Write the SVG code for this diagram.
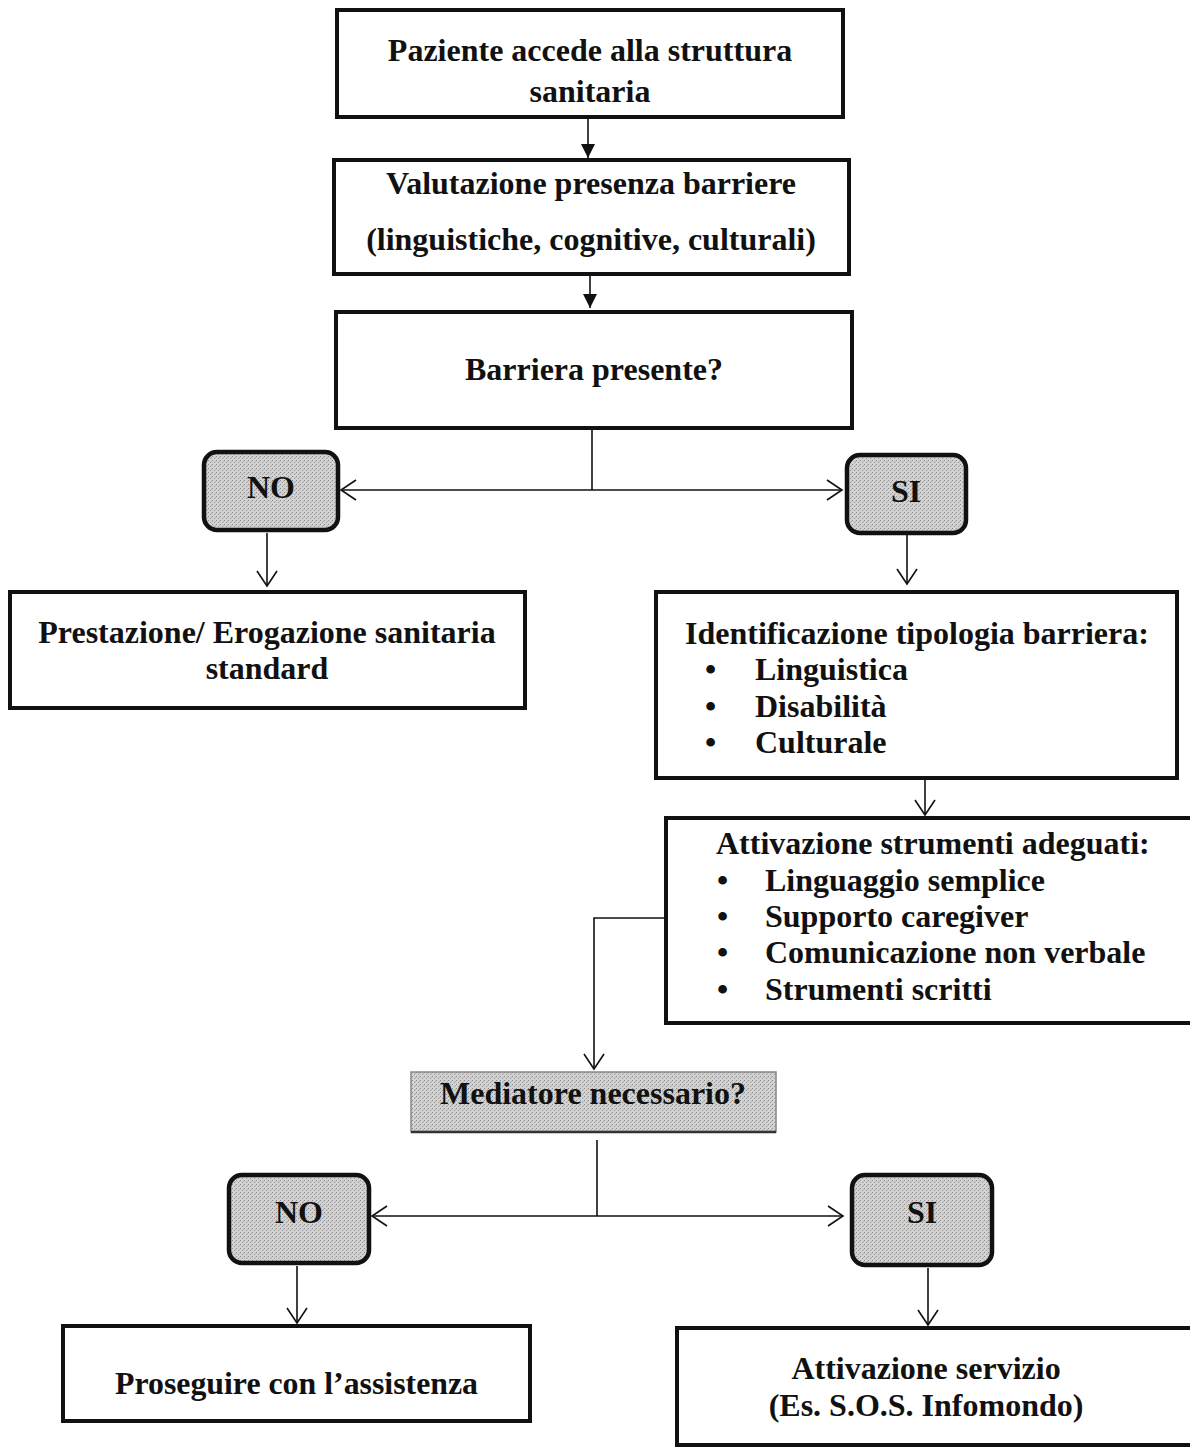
<svg xmlns="http://www.w3.org/2000/svg" width="1190" height="1448" viewBox="0 0 1190 1448">
<style>
.box{fill:#fff;stroke:#111;stroke-width:4}
.dec{fill:url(#stip);stroke:#111;stroke-width:4.5}
.med{fill:url(#stip);stroke:#888;stroke-width:1.5}
.t{font-family:"Liberation Serif","Times New Roman",serif;font-weight:bold;font-size:32px;fill:#111}
.c{text-anchor:middle}
.ln{fill:none;stroke:#111;stroke-width:1.6}
</style>
<defs>
<pattern id="stip" patternUnits="userSpaceOnUse" width="4" height="4">
<rect width="4" height="4" fill="#d2d2d2"/>
<rect x="0" y="0" width="1" height="1" fill="#8a8a8a"/>
<rect x="2" y="2" width="1" height="1" fill="#9a9a9a"/>
<rect x="3" y="1" width="1" height="1" fill="#b0b0b0"/>
</pattern>
<marker id="fa" markerUnits="userSpaceOnUse" markerWidth="14" markerHeight="14" refX="14" refY="7" orient="auto">
<path d="M0,0 L14,7 L0,14 Z" fill="#111"/>
</marker>
<marker id="oa" markerUnits="userSpaceOnUse" markerWidth="18" markerHeight="24" refX="16" refY="11" orient="auto">
<path d="M1,1 L16,11 L1,21" fill="none" stroke="#111" stroke-width="1.6"/>
</marker>
</defs>

<g id="connectors">
<line class="ln" x1="588" y1="119" x2="588" y2="158" marker-end="url(#fa)"/>
<line class="ln" x1="590" y1="276" x2="590" y2="308" marker-end="url(#fa)"/>
<polyline class="ln" points="592,430 592,490"/>
<line class="ln" x1="592" y1="490" x2="341" y2="490" marker-end="url(#oa)"/>
<line class="ln" x1="592" y1="490" x2="842" y2="490" marker-end="url(#oa)"/>
<line class="ln" x1="267" y1="533" x2="267" y2="586" marker-end="url(#oa)"/>
<line class="ln" x1="907" y1="535" x2="907" y2="584" marker-end="url(#oa)"/>
<line class="ln" x1="925" y1="768" x2="925" y2="815" marker-end="url(#oa)"/>
<polyline class="ln" points="666,918 594,918 594,1069" marker-end="url(#oa)"/>
<polyline class="ln" points="597,1140 597,1216"/>
<line class="ln" x1="597" y1="1216" x2="372" y2="1216" marker-end="url(#oa)"/>
<line class="ln" x1="597" y1="1216" x2="843" y2="1216" marker-end="url(#oa)"/>
<line class="ln" x1="297" y1="1266" x2="297" y2="1323" marker-end="url(#oa)"/>
<line class="ln" x1="928" y1="1268" x2="928" y2="1325" marker-end="url(#oa)"/>
</g>

<g id="n1">
<rect class="box" x="337" y="10" width="506" height="107"/>
<text class="t c" x="590" y="61">Paziente accede alla struttura</text>
<text class="t c" x="590" y="102">sanitaria</text>
</g>
<g id="n2">
<rect class="box" x="334" y="160" width="515" height="114"/>
<text class="t c" x="591" y="194">Valutazione presenza barriere</text>
<text class="t c" x="591" y="250">(linguistiche, cognitive, culturali)</text>
</g>
<g id="n3">
<rect class="box" x="336" y="312" width="516" height="116"/>
<text class="t c" x="594" y="380">Barriera presente?</text>
</g>
<g id="no1">
<rect class="dec" x="204" y="452" width="134" height="78" rx="13"/>
<text class="t c" x="271" y="498">NO</text>
</g>
<g id="si1">
<rect class="dec" x="847" y="455" width="119" height="78" rx="13"/>
<text class="t c" x="906" y="502">SI</text>
</g>
<g id="n4">
<rect class="box" x="10" y="592" width="515" height="116"/>
<text class="t c" x="267" y="643">Prestazione/ Erogazione sanitaria</text>
<text class="t c" x="267" y="679">standard</text>
</g>
<g id="n5">
<rect class="box" x="656" y="592" width="521" height="186"/>
<text class="t" x="685" y="644">Identificazione tipologia barriera:</text>
<text class="t" x="705" y="680">•</text><text class="t" x="755" y="680">Linguistica</text>
<text class="t" x="705" y="717">•</text><text class="t" x="755" y="717">Disabilità</text>
<text class="t" x="705" y="753">•</text><text class="t" x="755" y="753">Culturale</text>
</g>
<g id="n6">
<rect class="box" x="666" y="818" width="530" height="205"/>
<text class="t" x="716" y="854">Attivazione strumenti adeguati:</text>
<text class="t" x="717" y="891">•</text><text class="t" x="765" y="891">Linguaggio semplice</text>
<text class="t" x="717" y="927">•</text><text class="t" x="765" y="927">Supporto caregiver</text>
<text class="t" x="717" y="963">•</text><text class="t" x="765" y="963">Comunicazione non verbale</text>
<text class="t" x="717" y="1000">•</text><text class="t" x="765" y="1000">Strumenti scritti</text>
</g>
<g id="n7">
<rect class="med" x="411" y="1072" width="365" height="60"/>
<line x1="411" y1="1132" x2="776" y2="1132" stroke="#333" stroke-width="2.5"/>
<text class="t c" x="593" y="1104">Mediatore necessario?</text>
</g>
<g id="no2">
<rect class="dec" x="229" y="1175" width="140" height="88" rx="13"/>
<text class="t c" x="299" y="1223">NO</text>
</g>
<g id="si2">
<rect class="dec" x="852" y="1175" width="140" height="90" rx="13"/>
<text class="t c" x="922" y="1223">SI</text>
</g>
<g id="n8">
<rect class="box" x="63" y="1326" width="467" height="95"/>
<text class="t" x="115" y="1394" textLength="363" lengthAdjust="spacingAndGlyphs">Proseguire con l’assistenza</text>
</g>
<g id="n9">
<rect class="box" x="677" y="1328" width="525" height="117"/>
<text class="t c" x="926" y="1379">Attivazione servizio</text>
<text class="t c" x="926" y="1416">(Es. S.O.S. Infomondo)</text>
</g>
</svg>
